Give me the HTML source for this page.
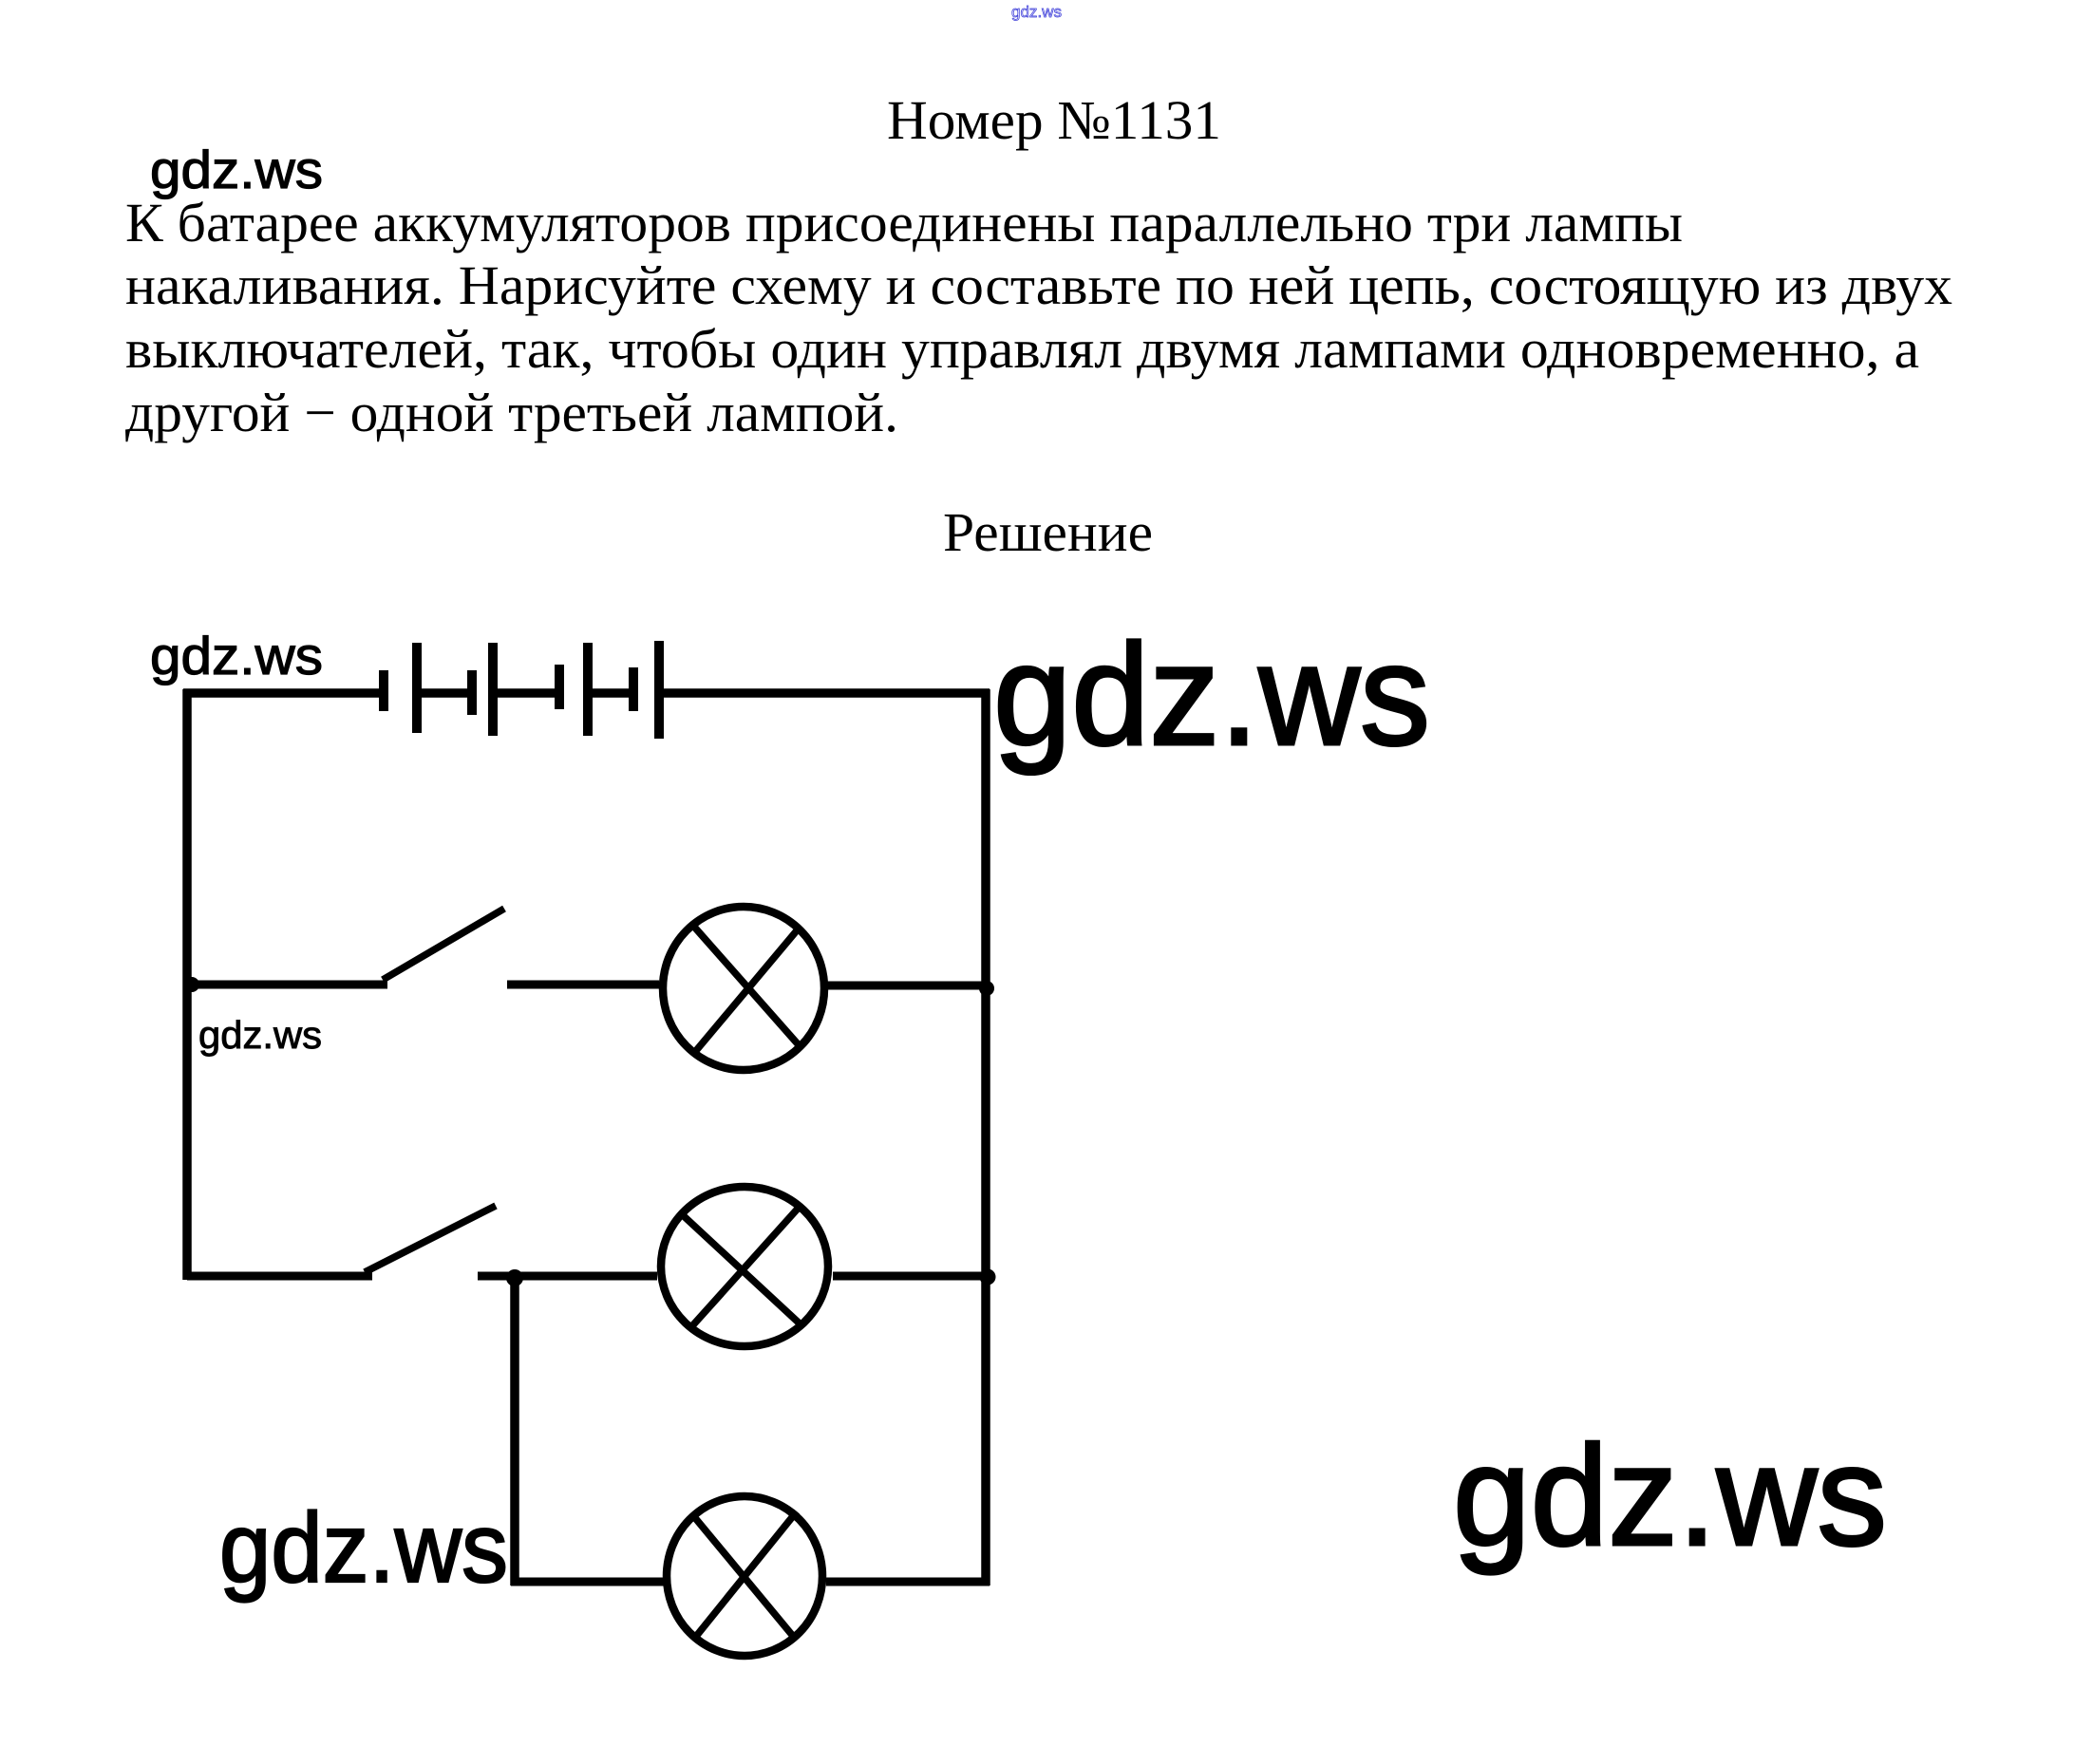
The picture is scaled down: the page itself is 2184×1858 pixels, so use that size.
<!DOCTYPE html>
<html>
<head>
<meta charset="utf-8">
<style>
html,body{margin:0;padding:0;background:#fff;}
svg{display:block;}
</style>
</head>
<body>
<svg width="2184" height="1858" viewBox="0 0 2184 1858" xmlns="http://www.w3.org/2000/svg">
<rect width="2184" height="1858" fill="#fff"/>

<!-- tiny blue watermark -->
<text x="1065" y="18" font-family="Liberation Sans, sans-serif" font-size="17" fill="#dfe0ff" stroke="#3b3bd6" stroke-width="0.7" textLength="53" lengthAdjust="spacingAndGlyphs">gdz.ws</text>

<!-- heading & problem text -->
<g font-family="Liberation Serif, 'DejaVu Serif', serif" fill="#000">
<text x="934" y="146" font-size="58" textLength="352" lengthAdjust="spacingAndGlyphs">Номер №1131</text>
<text x="132" y="254" font-size="58" textLength="1640" lengthAdjust="spacingAndGlyphs">К батарее аккумуляторов присоединены параллельно три лампы</text>
<text x="132" y="320" font-size="58" textLength="1924" lengthAdjust="spacingAndGlyphs">накаливания. Нарисуйте схему и составьте по ней цепь, состоящую из двух</text>
<text x="132" y="387" font-size="58" textLength="1889" lengthAdjust="spacingAndGlyphs">выключателей, так, чтобы один управлял двумя лампами одновременно, а</text>
<text x="132" y="454" font-size="58" textLength="814" lengthAdjust="spacingAndGlyphs">другой − одной третьей лампой.</text>
<text x="993" y="580" font-size="58" textLength="221" lengthAdjust="spacingAndGlyphs">Решение</text>
</g>

<!-- watermarks -->
<g font-family="Liberation Sans, 'DejaVu Sans', sans-serif" fill="#000" stroke="#000">
<text x="158" y="198" font-size="56" stroke-width="1.2" textLength="182" lengthAdjust="spacingAndGlyphs">gdz.ws</text>
<text x="158" y="710" font-size="56" stroke-width="1.2" textLength="182" lengthAdjust="spacingAndGlyphs">gdz.ws</text>
<text x="209" y="1104" font-size="41" stroke-width="0.9" textLength="130" lengthAdjust="spacingAndGlyphs">gdz.ws</text>
<text x="1046" y="784" font-size="152" stroke-width="3" textLength="460" lengthAdjust="spacingAndGlyphs">gdz.ws</text>
<text x="231" y="1666" font-size="104" stroke-width="2.2" textLength="304" lengthAdjust="spacingAndGlyphs">gdz.ws</text>
<text x="1530" y="1627" font-size="150" stroke-width="3" textLength="457" lengthAdjust="spacingAndGlyphs">gdz.ws</text>
</g>

<!-- circuit -->
<g stroke="#000" fill="none" stroke-linecap="butt">
  <!-- outer frame wires -->
  <line x1="197" y1="726" x2="197" y2="1348" stroke-width="9.5"/>
  <line x1="193" y1="730" x2="404" y2="730" stroke-width="9.5"/>
  <line x1="694" y1="730" x2="1042" y2="730" stroke-width="9.5"/>
  <line x1="1038" y1="726" x2="1038" y2="1670" stroke-width="9.5"/>

  <!-- battery -->
  <g stroke-width="10">
    <line x1="404" y1="706" x2="404" y2="749"/>
    <line x1="439" y1="677" x2="439" y2="772"/>
    <line x1="497" y1="706" x2="497" y2="753"/>
    <line x1="519" y1="677" x2="519" y2="775"/>
    <line x1="589" y1="700" x2="589" y2="747"/>
    <line x1="619" y1="677" x2="619" y2="775"/>
    <line x1="667" y1="703" x2="667" y2="749"/>
    <line x1="694" y1="675" x2="694" y2="778"/>
  </g>
  <g stroke-width="9.5">
    <line x1="439" y1="730" x2="497" y2="730"/>
    <line x1="519" y1="730" x2="589" y2="730"/>
    <line x1="619" y1="730" x2="667" y2="730"/>
  </g>

  <!-- branch 1 -->
  <line x1="197" y1="1037" x2="408" y2="1037" stroke-width="9"/>
  <line x1="403" y1="1032" x2="531" y2="957" stroke-width="7.5"/>
  <line x1="534" y1="1037" x2="694" y2="1037" stroke-width="9"/>
  <line x1="872" y1="1038" x2="1038" y2="1038" stroke-width="9"/>
  <ellipse cx="783" cy="1041" rx="85" ry="86" stroke-width="8.5"/>
  <line x1="730" y1="975" x2="843" y2="1103" stroke-width="7.5"/>
  <line x1="840" y1="979" x2="731" y2="1109" stroke-width="7.5"/>

  <!-- branch 2 -->
  <line x1="197" y1="1344" x2="392" y2="1344" stroke-width="9"/>
  <line x1="384" y1="1340" x2="522" y2="1270" stroke-width="7.5"/>
  <line x1="503" y1="1344" x2="692" y2="1344" stroke-width="9"/>
  <line x1="877" y1="1344" x2="1038" y2="1344" stroke-width="9"/>
  <ellipse cx="784" cy="1334" rx="88" ry="84" stroke-width="8.5"/>
  <line x1="719" y1="1280" x2="843" y2="1395" stroke-width="7.5"/>
  <line x1="840" y1="1273" x2="725" y2="1401" stroke-width="7.5"/>

  <!-- branch 3 -->
  <line x1="542" y1="1344" x2="542" y2="1670" stroke-width="9.5"/>
  <line x1="538" y1="1666" x2="699" y2="1666" stroke-width="9"/>
  <line x1="870" y1="1666" x2="1042" y2="1666" stroke-width="9"/>
  <ellipse cx="784" cy="1660" rx="82" ry="84" stroke-width="8.5"/>
  <line x1="728" y1="1594" x2="834" y2="1722" stroke-width="7.5"/>
  <line x1="839" y1="1592" x2="731" y2="1726" stroke-width="7.5"/>
</g>

<!-- junction dots -->
<g fill="#000">
  <circle cx="202" cy="1037" r="8"/>
  <circle cx="1039" cy="1041" r="8"/>
  <circle cx="542" cy="1346" r="9"/>
  <circle cx="1040" cy="1345" r="8.5"/>
</g>
</svg>
</body>
</html>
